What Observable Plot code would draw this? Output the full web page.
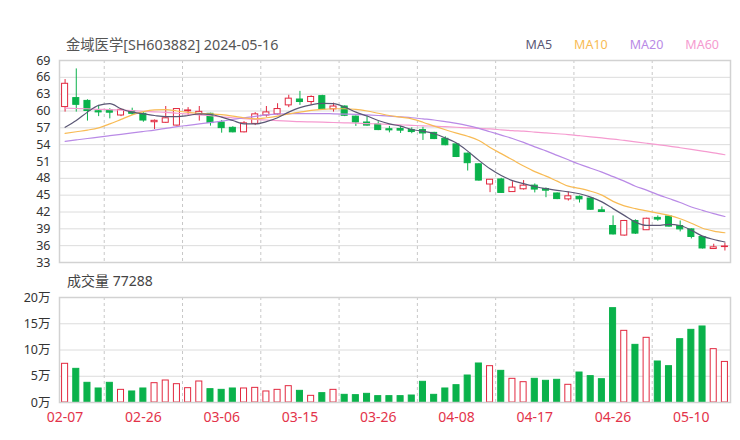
<!DOCTYPE html>
<html><head><meta charset="utf-8">
<script src="https://cdn.jsdelivr.net/npm/d3@7"></script>
<script src="https://cdn.jsdelivr.net/npm/@observablehq/plot@0.6"></script>
<style>
body{margin:0;background:#fff;font-family:"Noto Sans","Noto Sans CJK SC",sans-serif;}
#wrap{position:relative;width:740px;height:440px;overflow:hidden;background:#fff}
.t{position:absolute;white-space:nowrap;line-height:1}
#title{left:66px;top:38px;font-size:14.3px;color:#555}
#vol{left:67px;top:274px;font-size:14px;color:#444}
#legend{position:absolute;top:39px;right:21px;display:flex;gap:22px;font-size:12.5px;line-height:1}
.p{position:absolute;left:0}
</style></head><body><div id="wrap">
<div class="t" id="title"></div>
<div id="legend"></div>
<div class="t" id="vol"></div>
<div class="p" id="price" style="top:50px"></div>
<div class="p" id="volume" style="top:285px"></div>
</div>
<script>
const titleText = "金域医学[SH603882] 2024-05-16";
const volTitle = "成交量 77288";
const tickLabels = ["02-07","02-26","03-06","03-15","03-26","04-08","04-17","04-26","05-10"];
const maNames = ["MA5","MA10","MA20","MA60"];
const maColors = ["#5a5775","#f8bb55","#b98ae6","#f59bd0"];

const open  = [60.7,62.3,61.8,59.95,60.1,59.2,60.0,59.5,58.0,57.9,57.4,59.95,59.3,59.5,57.95,57.0,56.2,57.7,59.2,59.4,61.0,62.05,61.6,62.65,60.3,60.8,59.0,57.95,57.6,56.75,56.8,56.6,56.6,56.1,55.05,54.05,52.4,50.5,46.9,47.8,45.55,46.05,46.7,46.1,45.3,44.25,44.7,44.4,42.3,39.5,37.8,40.4,38.75,40.95,41.2,39.5,38.9,37.55,35.4,35.75];
const high  = [65.6,67.5,62.0,61.0,60.4,60.3,60.5,59.7,58.4,60.8,60.4,60.6,60.8,59.6,58.3,57.2,58.1,59.7,60.8,61.3,62.8,63.5,62.7,62.8,61.4,60.9,59.1,59.15,58.1,57.25,57.3,57.0,57.1,56.2,55.4,54.2,52.5,50.6,47.8,48.0,47.4,47.6,47.0,46.3,45.4,45.55,44.85,44.5,42.9,41.3,40.5,40.6,40.9,41.3,41.3,40.4,39.0,37.6,36.25,36.4];
const low   = [59.8,59.8,58.2,59.0,58.6,59.0,59.2,58.0,56.7,57.8,57.3,59.2,58.2,57.3,56.05,56.1,56.1,57.4,58.9,59.2,60.6,61.0,61.0,60.2,59.8,59.0,57.25,57.3,56.5,56.1,56.0,55.95,54.75,54.9,53.8,51.7,49.3,47.5,45.45,45.3,45.5,45.9,45.4,44.55,44.2,43.95,43.6,42.3,41.9,37.9,37.7,38.0,38.7,40.35,39.3,38.45,37.2,35.4,35.35,35.05];
const close = [64.85,61.1,60.0,59.75,59.7,60.2,59.5,58.3,58.25,58.7,60.35,60.1,59.85,57.85,56.95,56.2,57.8,59.4,59.75,60.35,62.2,61.6,62.5,60.3,60.8,59.15,57.95,57.4,56.6,56.55,56.5,56.25,56.0,55.0,53.9,51.8,50.7,47.6,47.75,45.4,46.35,46.7,46.0,45.8,44.3,44.8,44.25,42.4,42.0,38.0,40.4,38.15,40.8,40.65,39.4,38.9,37.55,35.5,35.7,35.85];
const volume = [7.37,6.41,3.75,2.67,3.75,2.41,2.1,2.67,3.68,4.19,3.49,2.73,4.0,2.54,2.41,2.67,2.67,2.79,2.1,2.41,3.11,2.22,1.27,1.78,2.41,1.46,1.40,1.65,1.21,1.21,1.21,1.33,3.94,1.46,2.67,3.3,5.14,7.43,6.92,6.03,4.51,3.87,4.51,4.13,4.32,3.37,5.71,5.02,4.44,17.97,13.65,10.98,12.32,7.81,6.92,12.06,13.84,14.48,10.16,7.7288];
const ma5  = [57.1,58.3,59.8,61.0,61.3,60.4,59.8,59.5,59.2,59.0,59.0,59.2,59.5,59.4,58.9,58.3,57.7,57.7,58.1,58.8,59.8,60.6,61.1,61.35,61.3,60.7,59.8,59.1,58.3,57.7,57.3,56.7,56.4,55.95,55.2,54.3,52.85,51.2,49.7,48.5,47.6,47.05,46.55,46.15,45.85,45.6,45.25,44.65,43.8,42.6,41.4,40.2,39.6,39.6,39.8,39.6,38.75,37.7,37.1,36.65];
const ma10 = [56.0,56.3,56.6,57.0,57.7,58.5,59.3,59.9,60.2,60.25,60.0,59.75,59.6,59.5,59.35,59.1,58.8,58.6,58.8,59.1,59.5,59.8,60.1,60.3,60.4,60.4,60.3,60.0,59.6,59.2,58.9,58.6,58.0,57.3,56.65,56.05,55.5,54.75,53.5,52.4,51.3,50.2,49.2,48.4,47.5,46.6,46.2,45.7,45.0,43.9,43.1,42.6,42.2,41.8,41.4,40.8,40.0,39.1,38.6,38.3];
const ma20 = [54.6,54.85,55.1,55.35,55.6,55.85,56.1,56.35,56.6,56.9,57.2,57.45,57.7,57.95,58.2,58.5,58.8,59.05,59.3,59.45,59.5,59.55,59.55,59.55,59.5,59.45,59.4,59.3,59.2,59.1,58.95,58.8,58.6,58.4,58.1,57.8,57.4,56.9,56.3,55.7,55.1,54.4,53.6,52.9,52.1,51.3,50.5,49.8,49.1,48.3,47.5,46.6,45.9,45.1,44.4,43.7,42.9,42.3,41.7,41.2];
const ma60 = [60.5,60.45,60.4,60.3,60.25,60.15,60.05,59.95,59.85,59.75,59.6,59.45,59.3,59.15,58.95,58.8,58.65,58.5,58.4,58.3,58.2,58.1,58.05,58.0,57.95,57.9,57.85,57.75,57.7,57.6,57.55,57.45,57.35,57.3,57.2,57.1,57.0,56.9,56.8,56.65,56.5,56.4,56.25,56.1,55.95,55.8,55.6,55.4,55.2,55.0,54.75,54.5,54.25,54.0,53.75,53.45,53.15,52.85,52.55,52.2];
const priceTicks = [33,36,39,42,45,48,51,54,57,60,63,66,69];
const volTicks = [0,5,10,15,20];

const RED = "#e2283f", GREEN = "#0ab24b", XLAB = "#e3334a";
const FONT = '"Noto Sans","Noto Sans CJK SC",sans-serif';
const N = open.length;
const rows = open.map((o, i) => ({i, o, h: high[i], l: low[i], c: close[i], v: volume[i], up: close[i] >= o}));
const xTickIdx = tickLabels.map((_, k) => k * 7);
const vGrid = tickLabels.slice(1).map((_, k) => k * 7 + 3.5);
const mas = [ma5, ma10, ma20, ma60];
const maRows = mas.map((arr, s) => arr.map((y, i) => ({i, y, s})));
const half = 0.27;

document.getElementById("title").textContent = titleText;
document.getElementById("vol").textContent = volTitle;
const lg = document.getElementById("legend");
maNames.forEach((n, k) => { const s = document.createElement("span"); s.textContent = n; s.style.color = maColors[k]; lg.appendChild(s); });

const common = {width: 740, marginLeft: 59, marginRight: 10, style: {fontFamily: FONT, background: "transparent", overflow: "visible"}};

const price = Plot.plot({
  ...common, height: 220, marginTop: 10, marginBottom: 8,
  x: {domain: [-0.5, N - 0.5], axis: null},
  y: {domain: [33, 69]},
  marks: [
    Plot.ruleY(priceTicks, {stroke: "#dcdcdc"}),
    Plot.ruleX(vGrid, {stroke: "#c8c8c8", strokeDasharray: "3,3"}),
    Plot.axisY(priceTicks, {tickSize: 0, tickPadding: 9, fontSize: 12.5, fill: "#333", label: null}),
    Plot.ruleX(rows, {x: "i", y1: "l", y2: "h", stroke: d => d.up ? RED : GREEN}),
    Plot.rect(rows, {x1: d => d.i - half, x2: d => d.i + half, y1: "o", y2: "c", fill: d => d.up ? "#fff" : GREEN, stroke: d => d.up ? RED : GREEN, strokeWidth: 1}),
    ...[3, 2, 1, 0].map(s => Plot.line(maRows[s], {x: "i", y: "y", stroke: maColors[s], strokeWidth: 1.2, curve: "monotone-x"})),
    Plot.frame({stroke: "#d2d2d2", strokeWidth: 1.5})
  ]
});
document.getElementById("price").appendChild(price);

const vol = Plot.plot({
  ...common, height: 155, marginTop: 12, marginBottom: 38,
  x: {domain: [-0.5, N - 0.5]},
  y: {domain: [0, 20]},
  marks: [
    Plot.ruleY(volTicks, {stroke: "#dcdcdc"}),
    Plot.ruleX(vGrid, {stroke: "#c8c8c8", strokeDasharray: "3,3"}),
    Plot.axisY(volTicks, {tickSize: 0, tickPadding: 9, fontSize: 12.5, fill: "#333", label: null, tickFormat: d => d + "万"}),
    Plot.axisX(xTickIdx, {tickSize: 0, tickPadding: 10, fontSize: 14, fill: XLAB, label: null, tickFormat: d => tickLabels[xTickIdx.indexOf(d)]}),
    Plot.rect(rows, {x1: d => d.i - half, x2: d => d.i + half, y1: 0, y2: "v", fill: d => d.up ? "#fff" : GREEN, stroke: d => d.up ? RED : GREEN, strokeWidth: 1}),
    Plot.frame({stroke: "#d2d2d2", strokeWidth: 1.5})
  ]
});
document.getElementById("volume").appendChild(vol);
</script>
</body></html>
